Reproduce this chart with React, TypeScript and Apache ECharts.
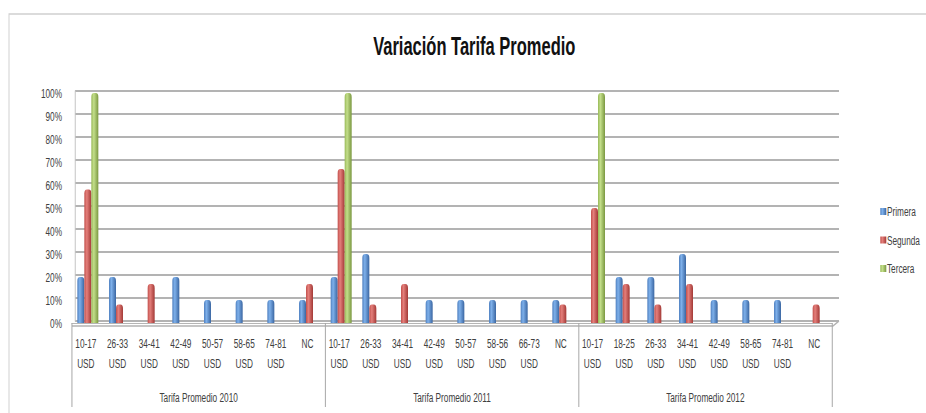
import React, { useEffect, useRef } from "react";
import * as echarts from "echarts";

// Category ranges per year group
const groups2010 = ["10-17 USD", "26-33 USD", "34-41 USD", "42-49 USD", "50-57 USD", "58-65 USD", "74-81 USD", "NC"];
const groups2011 = ["10-17 USD", "26-33 USD", "34-41 USD", "42-49 USD", "50-57 USD", "58-56 USD", "66-73 USD", "NC"];
const groups2012 = ["10-17 USD", "18-25 USD", "26-33 USD", "34-41 USD", "42-49 USD", "58-65 USD", "74-81 USD", "NC"];
const yearLabels = ["Tarifa Promedio 2010", "Tarifa Promedio 2011", "Tarifa Promedio 2012"];
const seriesNames = ["Primera", "Segunda", "Tercera"];

// Percent values per series, in category order (null = no bar)
const primera2010 = [20, 20, null, 20, 10, 10, 10, 10];
const segunda2010 = [58, 8, 17, null, null, null, null, 17];
const tercera2010 = [100, null, null, null, null, null, null, null];

const primera2011 = [20, 30, null, 10, 10, 10, 10, 10];
const segunda2011 = [67, 8, 17, null, null, null, null, 8];
const tercera2011 = [100, null, null, null, null, null, null, null];

const primera2012 = [null, 20, 20, 30, 10, 10, 10, null];
const segunda2012 = [50, 17, 8, 17, null, null, null, 8];
const tercera2012 = [100, null, null, null, null, null, null, null];

const yTicks = [0, 10, 20, 30, 40, 50, 60, 70, 80, 90, 100];

// The chart is laid out on a wider canvas and squeezed horizontally,
// which gives the tall, narrow lettering of the original workbook chart.
const SQUEEZE = 0.66;
const PAGE_W = 926;
const PAGE_H = 413;
const DESIGN_W = Math.round(PAGE_W / SQUEEZE);
const dx = (x: number) => x / SQUEEZE;

const FONT = "'Liberation Sans', Arial, sans-serif";
const TEXT = "#404040";

// plot extent along x, in page pixels
const PLOT_LEFT = 72;
const PLOT_WIDTH = 760;

function cylinder(edge: string, light: string, dark: string) {
  return new echarts.graphic.LinearGradient(0, 0, 1, 0, [
    { offset: 0, color: edge },
    { offset: 0.35, color: light },
    { offset: 1, color: dark },
  ]);
}

export default function App() {
  const ref = useRef<HTMLDivElement>(null);

  useEffect(() => {
    document.body.style.margin = "0";
    if (!ref.current) return;
    const chart = echarts.init(ref.current, null, { renderer: "svg" });

    const groupSize = groups2010.length;
    const keys = [
      ...groups2010.map((c) => "2010|" + c),
      ...groups2011.map((c) => "2011|" + c),
      ...groups2012.map((c) => "2012|" + c),
    ];
    const primera = [...primera2010, ...primera2011, ...primera2012];
    const segunda = [...segunda2010, ...segunda2011, ...segunda2012];
    const tercera = [...tercera2010, ...tercera2011, ...tercera2012];

    const barBase = {
      type: "bar" as const,
      xAxisIndex: 0,
      yAxisIndex: 0,
      barWidth: dx(7),
      barGap: "0%",
    };

    // year captions centred under each block of categories
    const groupW = PLOT_WIDTH / yearLabels.length;
    const yearTexts = yearLabels.map((label, i) => ({
      type: "text",
      x: dx(PLOT_LEFT + groupW * (i + 0.5)),
      y: 397,
      silent: true,
      style: {
        text: label,
        fontFamily: FONT,
        fontSize: 12.5,
        fill: TEXT,
        align: "center",
        verticalAlign: "middle",
      },
    }));

    chart.setOption({
      animation: false,
      backgroundColor: "#ffffff",
      color: ["#4f81bd", "#c0504d", "#9bbb59"],
      title: {
        text: "Variación Tarifa Promedio",
        left: dx(471),
        textAlign: "center",
        top: 29,
        textStyle: { fontFamily: FONT, fontSize: 25, fontWeight: "bold", color: "#111111" },
      },
      legend: {
        orient: "vertical",
        left: dx(877),
        top: 200,
        itemWidth: dx(6),
        itemHeight: 7,
        itemGap: 15.5,
        icon: "rect",
        textStyle: { fontFamily: FONT, fontSize: 12.5, color: TEXT, padding: [0, 0, 0, -4] },
        data: seriesNames,
      },
      grid: [
        // bars, category labels and group separators
        { left: dx(PLOT_LEFT), width: dx(PLOT_WIDTH), top: 93, bottom: 90 },
        // back wall with gridlines
        { left: dx(75), width: dx(764), top: 91, bottom: 92 },
      ],
      xAxis: [
        {
          type: "category",
          gridIndex: 0,
          data: keys,
          axisLine: { show: true, lineStyle: { color: "#a6a6a6", width: 1 } },
          axisTick: {
            show: true,
            interval: (i: number) => i % groupSize === 0,
            length: 84,
            lineStyle: { color: "#a6a6a6", width: 1.5 },
          },
          axisLabel: {
            interval: 0,
            margin: 10,
            fontFamily: FONT,
            fontSize: 12.5,
            color: TEXT,
            lineHeight: 20,
            padding: [0, 6, 0, 0],
            formatter: (v: string) => v.split("|")[1].replace(" ", "\n"),
          },
        },
        { type: "value", gridIndex: 1, show: false },
      ],
      yAxis: [
        {
          type: "value",
          gridIndex: 0,
          min: 0,
          max: 100,
          interval: 10,
          axisLine: { show: false },
          axisTick: { show: false },
          splitLine: { show: false },
          axisLabel: {
            margin: dx(10),
            fontFamily: FONT,
            fontSize: 12.5,
            color: TEXT,
            formatter: (v: number) => (yTicks.includes(v) ? v + "%" : ""),
          },
        },
        {
          type: "value",
          gridIndex: 1,
          min: 0,
          max: 100,
          interval: 10,
          axisLabel: { show: false },
          axisTick: { show: false },
          axisLine: { show: true, lineStyle: { color: "#c4c4c4", width: 1.5 } },
          splitLine: { show: true, lineStyle: { color: "#b3b3b3", width: 2 } },
        },
      ],
      series: [
        {
          ...barBase,
          name: seriesNames[0],
          data: primera,
          itemStyle: { color: cylinder("#4f80c0", "#7eb0ea", "#3a66a2"), borderRadius: [4, 4, 0, 0] },
        },
        {
          ...barBase,
          name: seriesNames[1],
          data: segunda,
          itemStyle: { color: cylinder("#c2504c", "#e47f7b", "#a33936"), borderRadius: [4, 4, 0, 0] },
        },
        {
          ...barBase,
          name: seriesNames[2],
          data: tercera,
          itemStyle: { color: cylinder("#98b957", "#c3de8a", "#7a9840"), borderRadius: [4, 4, 0, 0] },
        },
      ],
      graphic: [
        {
          type: "rect",
          shape: { x: dx(9), y: 14, width: DESIGN_W, height: PAGE_H + 40 },
          style: { fill: "none", stroke: "#d0d0d0", lineWidth: 1.5 },
          silent: true,
          z: -1,
        },
        {
          // floor edge of the plot
          type: "polyline",
          shape: { points: [[dx(72), 326], [dx(833), 326], [dx(839), 321]] },
          style: { fill: "none", stroke: "#b3b3b3", lineWidth: 1.5 },
          silent: true,
        },
        ...yearTexts,
      ],
    });

    return () => chart.dispose();
  }, []);

  return (
    <div style={{ width: PAGE_W, height: PAGE_H, overflow: "hidden", position: "relative" }}>
      <div
        ref={ref}
        style={{
          width: DESIGN_W,
          height: PAGE_H,
          transform: `scaleX(${SQUEEZE})`,
          transformOrigin: "0 0",
        }}
      />
    </div>
  );
}
